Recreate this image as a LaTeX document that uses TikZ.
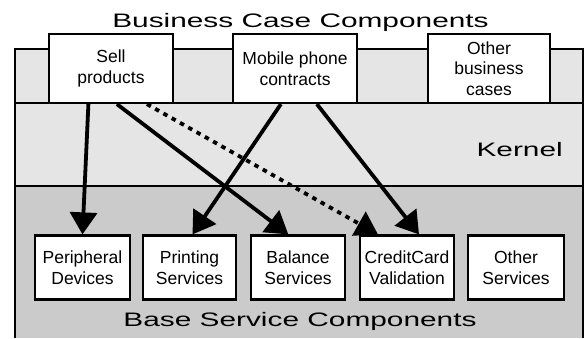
\documentclass[tikz,border=0pt]{standalone}
\usepackage{fontspec}
\setmainfont{Liberation Sans}
\newfontfamily\bandfont[FakeStretch=1.53]{Liberation Sans}
\usetikzlibrary{arrows.meta,calc}
\definecolor{bandlight}{HTML}{E5E5E5}
\definecolor{banddark}{HTML}{CBCBCB}
\tikzset{
  comp/.style={draw, fill=white, line width=2.2pt, inner sep=0pt, align=center,
    font=\fontsize{17.5}{20.5}\selectfont},
  topcomp/.style={comp, minimum height=69pt},
  basecomp/.style={comp, minimum height=64pt},
  uses/.style={line width=3.8pt, -{Triangle[length=22pt,width=27pt]}},
  optuses/.style={uses, dash pattern=on 4.5pt off 5pt},
  bandlabel/.style={font=\bandfont\fontsize{19.5}{22}\selectfont, inner sep=0pt},
  band/.style={line width=1.6pt},
}
\begin{document}
\begin{tikzpicture}[x=1pt,y=-1pt]
\useasboundingbox (0,0) rectangle (586,338);
% layers
\fill[bandlight] (15,49) rectangle (583,186);
\fill[banddark] (15,186) rectangle (583,338);
\draw[band] (15,338) -- (15,49) -- (583,49) -- (583,338);
\draw[band] (15,103) -- (583,103);
\draw[band] (15,186) -- (583,186);
% layer labels
\node[bandlabel, anchor=base] (bctitle) at (300.5,27.7) {Business Case Components};
\node[bandlabel, anchor=base east] (kernel) at (563,156.7) {Kernel};
\node[bandlabel, anchor=base] (bstitle) at (300,326.7) {Base Service Components};
% business case components
\node[topcomp, minimum width=124pt] (sell) at (111,68.5) {Sell\\products};
\node[topcomp, minimum width=124pt] (mobile) at (295,68.5) {Mobile phone\\contracts};
\node[topcomp, minimum width=122pt] (otherbc) at (489,68.5) {Other\\business\\cases};
% base service components
\node[basecomp, minimum width=95pt] (periph) at (82.5,267.5) {Peripheral\\Devices};
\node[basecomp, minimum width=93pt] (printing) at (189.5,267.5) {Printing\\Services};
\node[basecomp, minimum width=94pt] (balance) at (298,267.5) {Balance\\Services};
\node[basecomp, minimum width=94pt] (credit) at (407,267.5) {CreditCard\\Validation};
\node[basecomp, minimum width=96pt] (otherbs) at (516,267.5) {Other\\Services};
% dependencies
\draw[uses] ($(sell.south west)+(40.5,0)$) -- (periph.north);
\draw[uses] ($(sell.south west)+(69,0)$) -- ($(balance.north)+(-9.7,0)$);
\draw[optuses] ($(sell.south west)+(99,0)$) -- ($(credit.north)+(-29,0)$);
\draw[uses] ($(mobile.south west)+(49,0)$) -- ($(printing.north)+(3,0)$);
\draw[uses] ($(mobile.south west)+(85,0)$) -- ($(credit.north)+(12,0)$);
\end{tikzpicture}
\end{document}
